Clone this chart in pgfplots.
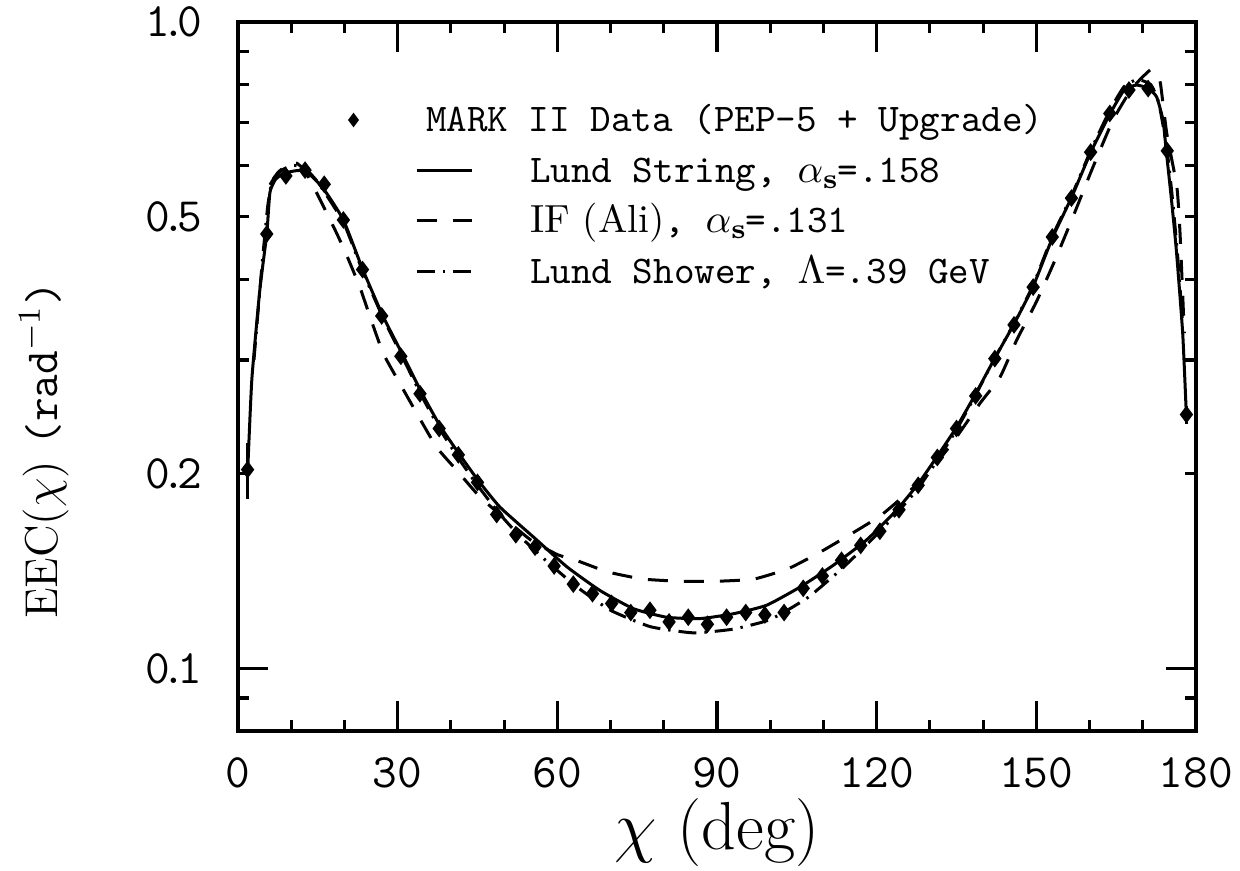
\documentclass[border=0pt]{standalone}
\usepackage{pgfplots}
\pgfplotsset{compat=1.18}
\pgfplotstableread{
x y e
1.8 0.203 0.02
5.4 0.47 0
9.0 0.578 0
12.6 0.590 0
16.2 0.561 0
19.8 0.494 0
23.4 0.414 0
27.0 0.351 0
30.6 0.304 0
34.2 0.266 0
37.8 0.235 0
41.4 0.214 0
45.0 0.194 0
48.6 0.173 0
52.2 0.161 0
55.8 0.154 0
59.4 0.144 0
63.0 0.135 0
66.6 0.1305 0
70.2 0.126 0
73.8 0.122 0
77.4 0.123 0
81.0 0.118 0
84.6 0.120 0
88.2 0.117 0
91.8 0.120 0
95.4 0.122 0
99.0 0.121 0
102.6 0.122 0
106.2 0.133 0
109.8 0.139 0
113.4 0.147 0
117.0 0.155 0
120.6 0.163 0
124.2 0.176 0
127.8 0.192 0
131.4 0.212 0
135.0 0.235 0
138.6 0.264 0
142.2 0.3015 0
145.8 0.340 0
149.4 0.389 0
153.0 0.465 0
156.6 0.534 0
160.2 0.629 0
163.8 0.722 0
167.4 0.785 0
171.0 0.789 0
174.6 0.632 0
178.2 0.247 0.008
}\data
\pgfplotstableread{
x y
1.8 0.20
2.6 0.28
4.1 0.385
5.4 0.47
6.0 0.545
7.0 0.570
8.5 0.583
11.0 0.589
12.9 0.587
16.0 0.553
19.8 0.494
23.5 0.413
27.3 0.350
31.0 0.305
34.5 0.267
38.0 0.237
41.5 0.215
45.0 0.196
49.2 0.1777
55.5 0.1597
61.8 0.1436
68.0 0.132
74.3 0.1237
80.5 0.1200
86.8 0.1194
93.1 0.1215
99.3 0.1252
105.6 0.1336
111.8 0.1443
118.1 0.158
123.7 0.1756
127.8 0.193
131.4 0.213
135.0 0.236
138.6 0.266
142.2 0.302
145.8 0.341
149.4 0.390
153.0 0.463
156.6 0.535
160.2 0.628
163.8 0.720
166.5 0.785
168.8 0.799
171.0 0.790
172.6 0.766
173.8 0.705
174.4 0.633
175.4 0.530
176.3 0.444
177.5 0.330
178.2 0.245
}\lundstring
\pgfplotstableread{
x y
6.0 0.560
7.5 0.585
9.5 0.603
11.0 0.605
12.5 0.590
14.0 0.560
16.5 0.510
18.6 0.470
20.4 0.436
22.9 0.389
24.8 0.350
27.3 0.307
30.4 0.276
33.6 0.248
37.3 0.220
41.1 0.2025
45.5 0.184
49.8 0.1715
55.0 0.158
60.0 0.150
63.5 0.147
69.5 0.141
76.0 0.1375
83.0 0.1364
90.0 0.1364
97.0 0.1375
103.5 0.1428
109.5 0.1515
115.5 0.162
120.6 0.172
124.5 0.183
128.8 0.197
134.0 0.222
139.4 0.257
143.2 0.2825
146.3 0.322
150.0 0.369
153.5 0.428
156.9 0.500
160.4 0.590
164.4 0.705
168.0 0.790
171.4 0.843
172.5 0.830
173.3 0.805
174.5 0.673
176.4 0.556
177.0 0.471
177.8 0.330
}\ifali
\pgfplotstableread{
x y
3.0 0.300
4.5 0.420
5.6 0.520
6.5 0.570
8.5 0.592
10.5 0.600
12.5 0.595
15.0 0.565
19.8 0.490
23.5 0.410
27.3 0.348
31.0 0.302
34.5 0.264
38.0 0.234
41.5 0.211
45.0 0.192
49.0 0.174
53.0 0.160
57.8 0.147
63.5 0.134
70.0 0.123
77.5 0.116
85.5 0.1135
93.0 0.115
100.0 0.119
107.0 0.1286
113.2 0.142
118.0 0.155
123.0 0.171
127.8 0.190
131.4 0.210
135.0 0.234
138.6 0.265
142.2 0.302
145.8 0.342
149.4 0.392
153.0 0.466
156.6 0.538
160.2 0.632
163.8 0.730
166.5 0.795
169.0 0.815
171.5 0.800
173.0 0.750
174.5 0.640
175.5 0.540
176.5 0.440
177.5 0.340
}\lundshower
\pgfplotsset{
  linelegend/.style={legend image code/.code={\draw[##1] (0pt,0pt) -- (13.75pt,0pt);}},
  marklegend/.style={legend image code/.code={\draw[##1, overlay, mark size=1.5pt] plot coordinates {(-15.75pt,0pt)};}},
}
\newcommand{\pd}{\kern-2.2pt.\kern-2.2pt}
\newcommand{\as}{$\alpha_{\mathbf{s}}$\kern-0.5pt}
\begin{document}
\begin{tikzpicture}
\begin{axis}[
  name=ax,
  scale only axis, width=239.5pt, height=177.25pt,
  xmin=0, xmax=180, ymode=log, ymin=0.08, ymax=1.0,
  axis line style={line width=0.9pt},
  xtick={0,30,60,90,120,150,180},
  xticklabels={0,30,60,90,120,150,180},
  minor xtick={10,20,40,50,70,80,100,110,130,140,160,170},
  ytick={0.1}, yticklabels={0\pd1},
  extra y ticks={0.2,0.5,1},
  extra y tick labels={0\pd2,0\pd5,1\pd0},
  extra y tick style={major tick length=2.75pt},
  minor ytick={0.09,0.3,0.4,0.6,0.7,0.8,0.9},
  major tick length=7.5pt, minor tick length=2.75pt,
  tick align=inside,
  every tick/.style={line width=0.8pt, black},
  tick label style={font=\ttfamily\fontsize{12}{14}\selectfont},
  yticklabel style={xshift=-5.5pt},
  xticklabel style={yshift=-3pt},
  xlabel={$\chi$ (deg)},
  xlabel style={font=\fontsize{17}{20}\selectfont, at={(axis description cs:0.5,0)}, anchor=center, yshift=-25.5pt},
  ylabel={EEC($\chi$) {\ttfamily(rad$^{-1}$)}},
  ylabel style={font=\fontsize{11.5}{13}\selectfont, at={(axis description cs:0,0.396)}, anchor=center, yshift=48.5pt},
  legend style={at={(axis description cs:0.1848,0.8872)}, anchor=north west,
    draw=none, fill=none, inner sep=0pt, outer sep=0pt, row sep=3.6pt,
    font=\ttfamily\fontsize{9.8}{11}\selectfont,
    nodes={inner sep=0pt},
    /tikz/every odd column/.append style={column sep=14.25pt}},
  legend cell align=left,
]
\addplot[only marks, mark=diamond*, black, mark size=1.9pt, marklegend,
  error bars/.cd, y dir=both, y explicit, error mark=none,
  error bar style={line width=0.75pt, black}]
  table[x=x, y=y, y error=e] {\data};
\addlegendentry{\hspace*{-26pt}\rule[-2.5pt]{0pt}{10pt}MARK II Data (PEP-5 + Upgrade)}
\addplot[black, line width=0.75pt, smooth, tension=0.3, linelegend]
  table[x=x, y=y] {\lundstring};
\addlegendentry{\rule[-2.5pt]{0pt}{10pt}Lund String, \as=.158}
\addplot[black, line width=0.75pt, smooth, tension=0.3, dash pattern=on 5pt off 4pt, linelegend]
  table[x=x, y=y] {\ifali};
\addlegendentry{\rule[-2.5pt]{0pt}{10pt}{\rmfamily IF (Ali)}, \as=.131}
\addplot[black, line width=0.75pt, smooth, tension=0.3, dash pattern=on 4.5pt off 2pt on 0.6pt off 2pt, linelegend]
  table[x=x, y=y] {\lundshower};
\addlegendentry{\rule[-2.5pt]{0pt}{10pt}Lund Shower, $\Lambda$=.39 GeV}
\end{axis}
\pgfresetboundingbox
\path ([xshift=-59.5pt,yshift=-34.75pt]ax.south west) rectangle ([xshift=250.5pt,yshift=182.75pt]ax.south west);
\end{tikzpicture}
\end{document}
